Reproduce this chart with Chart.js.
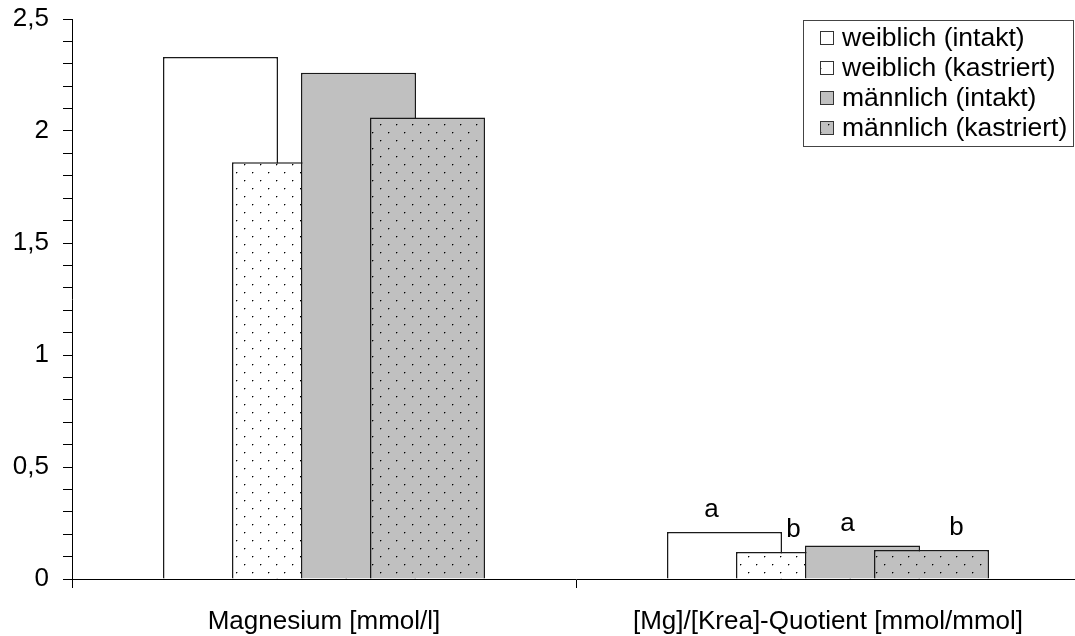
<!DOCTYPE html>
<html lang="de">
<head>
<meta charset="UTF-8"/>
<title>Magnesium und [Mg]/[Krea]-Quotient</title>
<script src="https://cdn.jsdelivr.net/npm/chart.js@4/dist/chart.umd.min.js"></script>
<style>
  *{margin:0;padding:0}
  body{background:#fff;width:1075px;height:636px;overflow:hidden}
</style>
</head>
<body>
<!-- etwas breiter als das Fenster: die x-Achse läuft rechts aus dem Bild -->
<canvas id="c" width="1080" height="636"></canvas>
<script>
// Daten
const categories  = ['Magnesium [mmol/l]', '[Mg]/[Krea]-Quotient [mmol/mmol]'];
const seriesNames = ['weiblich (intakt)', 'weiblich (kastriert)', 'männlich (intakt)', 'männlich (kastriert)'];
const wIntakt     = [2.33, 0.21];
const wKastriert  = [1.86, 0.12];
const mIntakt     = [2.26, 0.15];
const mKastriert  = [2.06, 0.13];
const sigLetters  = [['', 'a'], ['', 'b'], ['', 'a'], ['', 'b']];  // je Serie, je Kategorie
const yTicks      = [0, 0.5, 1, 1.5, 2, 2.5];

const FONT = '"Liberation Sans", Arial, Helvetica, sans-serif';
const FS = 26;
const EDGE = '#1a1a1a';

// Punktraster wie in der Vorlage
function dots(bg) {
  const t = document.createElement('canvas');
  t.width = 16; t.height = 16;
  const g = t.getContext('2d');
  g.fillStyle = bg; g.fillRect(0, 0, 16, 16);
  g.fillStyle = 'rgba(0,0,0,0.35)';
  g.fillRect(5, 4, 1, 1); g.fillRect(4, 5, 1, 1);
  g.fillRect(13, 12, 1, 1); g.fillRect(12, 13, 1, 1);
  g.fillStyle = '#000';
  g.fillRect(4, 4, 1, 1); g.fillRect(12, 12, 1, 1);
  return g.createPattern(t, 'repeat');
}

const fills = ['#ffffff', dots('#ffffff'), '#c0c0c0', dots('#c0c0c0')];
const values = [wIntakt, wKastriert, mIntakt, mKastriert];

// spätere Serien liegen oben (wie Excel mit Überlappung)
const drawForward = {
  id: 'drawForward',
  beforeDatasetsDraw(chart) {
    chart.getSortedVisibleDatasetMetas().forEach(m => chart._drawDataset(m));
    return false;
  }
};

// Buchstaben a/b über den Balken
const letterDx = [-13, 0, -15, 25];
const letters = {
  id: 'letters',
  afterDraw(chart) {
    const ctx = chart.ctx;
    ctx.save();
    ctx.font = FS + 'px ' + FONT;
    ctx.fillStyle = '#000';
    ctx.textAlign = 'center';
    ctx.textBaseline = 'middle';
    chart.data.datasets.forEach((ds, i) => {
      chart.getDatasetMeta(i).data.forEach((bar, j) => {
        const t = sigLetters[i][j];
        if (t) ctx.fillText(t, bar.x + letterDx[i], bar.y - 22);
      });
    });
    ctx.restore();
  }
};

// Legende mit Rahmen oben rechts
const boxLegend = {
  id: 'boxLegend',
  afterDraw(chart) {
    const ctx = chart.ctx;
    const L = 803, T = 20, W = 270, H = 126, sq = 14, row = 30;
    ctx.save();
    ctx.fillStyle = '#fff';
    ctx.fillRect(L, T, W, H);
    ctx.strokeStyle = '#444';
    ctx.lineWidth = 1;
    ctx.strokeRect(L + 0.5, T + 0.5, W, H);
    ctx.font = '26.5px ' + FONT;
    ctx.textBaseline = 'middle';
    seriesNames.forEach((name, i) => {
      const cy = T + 18 + i * row;
      ctx.fillStyle = fills[i];
      ctx.fillRect(L + 17, cy - 7, sq, sq);
      ctx.strokeStyle = '#333';
      ctx.strokeRect(L + 17.5, cy - 6.5, sq - 1, sq - 1);
      ctx.fillStyle = '#000';
      ctx.fillText(name, L + 39, cy + 1);
    });
    ctx.restore();
  }
};

Chart.defaults.font.family = FONT;
Chart.defaults.color = '#000';

new Chart(document.getElementById('c'), {
  type: 'bar',
  data: {
    labels: categories,
    datasets: seriesNames.map((name, i) => ({
      label: name,
      data: values[i],
      backgroundColor: fills[i],
      borderColor: EDGE,
      borderWidth: 1.5,
      borderSkipped: 'bottom',
      categoryPercentage: 0.5476,
      barPercentage: 1.6667
    }))
  },
  options: {
    responsive: false,
    animation: false,
    layout: { padding: { top: 19, right: 0, left: 0, bottom: 0 } },
    plugins: { legend: { display: false }, tooltip: { enabled: false } },
    scales: {
      x: {
        offset: true,
        z: 1,
        grid: { drawOnChartArea: false, offset: true, tickLength: 9, color: '#000' },
        border: { color: '#000', width: 1 },
        ticks: { font: { size: FS }, padding: 18, maxRotation: 0, autoSkip: false },
        afterFit(s) { s.height = 57; s.paddingLeft = 0; s.paddingRight = 0; }
      },
      y: {
        min: 0, max: 2.5,
        grid: { drawOnChartArea: false, tickLength: 9, color: '#000' },
        border: { color: '#000', width: 1 },
        ticks: {
          stepSize: 0.1, autoSkip: false, padding: 14, font: { size: FS },
          callback: v => {
            const r = Math.round(v * 10) / 10;
            return yTicks.includes(r) ? String(r).replace('.', ',') : '';
          }
        },
        afterFit(s) { s.width = 72; s.paddingTop = 0; s.paddingBottom = 0; }
      }
    }
  },
  plugins: [drawForward, letters, boxLegend]
});
</script>
</body>
</html>
